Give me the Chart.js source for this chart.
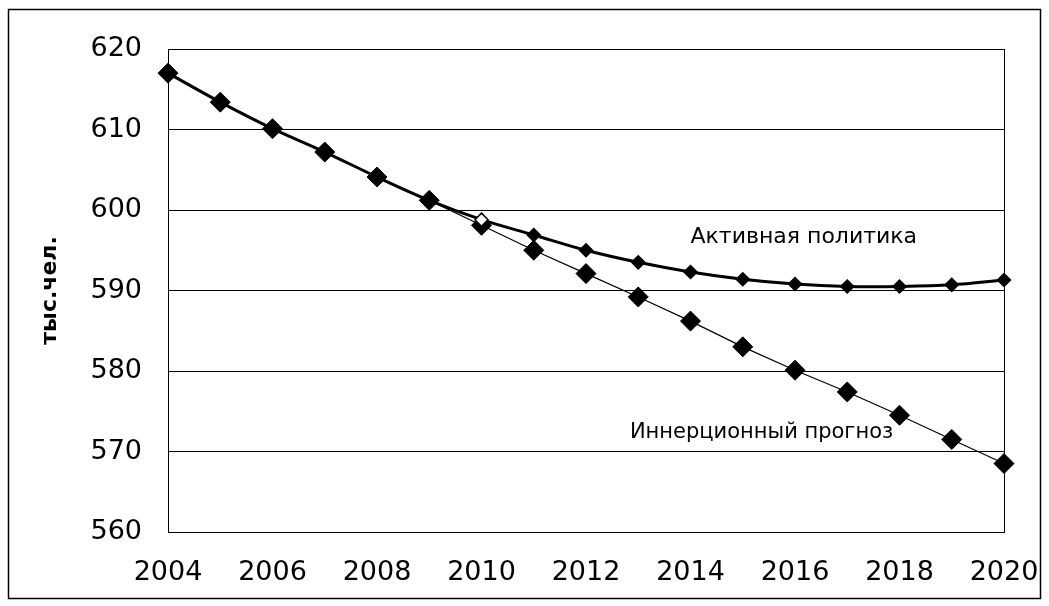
<!DOCTYPE html>
<html>
<head>
<meta charset="utf-8">
<script src="https://cdn.jsdelivr.net/npm/chart.js@4"></script>
<style>
  html, body { margin:0; padding:0; background:#fff; }
  #wrap { width:1049px; height:606px; position:relative; }
</style>
</head>
<body>
<div id="wrap"><canvas id="chart" width="1049" height="606"></canvas></div>
<script>
// years on x axis
const years = [2004,2005,2006,2007,2008,2009,2010,2011,2012,2013,2014,2015,2016,2017,2018,2019,2020];
// inertial forecast, thousand people
const inertial = [617.0,613.4,610.1,607.2,604.1,601.2,598.1,595.0,592.1,589.2,586.2,583.0,580.1,577.4,574.5,571.5,568.5];
// active policy (coincides with inertial before 2010)
const active = [617.0,613.4,610.1,607.2,604.1,601.2,598.8,596.9,595.0,593.5,592.3,591.4,590.8,590.5,590.5,590.7,591.3];
const yTicks = [560,570,580,590,600,610,620];
const xTicks = [2004,2006,2008,2010,2012,2014,2016,2018,2020];
const seriesLabels = ['Иннерционный прогноз', 'Активная политика'];
// where the two text labels sit, in data units [year, value]
const labelPos = [[2012.84, 572.3], [2014.0, 596.6]];

const FONT = '"DejaVu Sans", "Liberation Sans", Arial, sans-serif';

const frame = {
  id: 'frame',
  afterDraw(chart) {
    const { ctx, chartArea: a, scales } = chart;
    ctx.save();
    ctx.strokeStyle = '#000';
    ctx.lineWidth = 1.5;
    ctx.strokeRect(8.5, 9.5, 1032, 589);
    // series labels
    ctx.fillStyle = '#000';
    ctx.textBaseline = 'middle';
    ctx.textAlign = 'left';
    seriesLabels.forEach((t, i) => {
      ctx.font = (i === 0 ? '21px ' : '22px ') + FONT;
      ctx.fillText(t, scales.x.getPixelForValue(labelPos[i][0]), scales.y.getPixelForValue(labelPos[i][1]));
    });
    ctx.restore();
  },
  beforeDatasetsDraw(chart) {
    const { ctx, chartArea: a } = chart;
    ctx.save();
    ctx.strokeStyle = '#000';
    ctx.lineWidth = 1;
    ctx.strokeRect(a.left + 0.5, a.top + 0.5, a.right - a.left, a.bottom - a.top);
    ctx.restore();
  }
};

new Chart(document.getElementById('chart'), {
  type: 'line',
  data: {
    datasets: [
      { label: seriesLabels[1], data: years.map((y, i) => ({ x: y, y: active[i] })),
        borderColor:'#000', borderWidth:3, tension:0.35, clip:false,
        pointStyle:'rectRot', pointRadius:6.5, pointBorderWidth:1.5, pointBorderColor:'#000',
        pointBackgroundColor: years.map(y => y === 2010 ? '#fff' : '#000'), order:0 },
      { label: seriesLabels[0], data: years.map((y, i) => ({ x: y, y: inertial[i] })),
        borderColor:'#000', borderWidth:1.2, tension:0, clip:false,
        pointStyle:'rectRot', pointRadius:10, pointBorderWidth:1, pointBorderColor:'#000',
        pointBackgroundColor:'#000', order:1 }
    ]
  },
  options: {
    responsive:false, animation:false, devicePixelRatio:1,
    layout: { padding: { left:0, right:45, top:49, bottom:0 } },
    plugins: { legend:{ display:false }, tooltip:{ enabled:false } },
    scales: {
      x: {
        type:'linear', min:2004, max:2020,
        afterBuildTicks: s => { s.ticks = xTicks.map(v => ({ value:v })); },
        afterFit: s => { s.height = 74; s.paddingLeft = 0; s.paddingRight = 0; },
        grid: { display:false, drawTicks:false },
        border: { display:false },
        ticks: { color:'#000', font:{ family:FONT, size:27 }, padding:25, maxRotation:0,
          callback: v => String(v) }
      },
      y: {
        min:560, max:620,
        afterBuildTicks: s => { s.ticks = yTicks.map(v => ({ value:v })); },
        afterFit: s => { s.width = 168; s.paddingTop = 0; s.paddingBottom = 0; },
        grid: { color:'#000', lineWidth:1, drawTicks:false },
        border: { display:false },
        ticks: { color:'#000', font:{ family:FONT, size:27 }, padding:26 },
        title: { display:true, text:'тыс.чел.', color:'#000',
          font:{ family:FONT, size:22, weight:'bold' }, padding:{ top:37, bottom:0 } }
      }
    }
  },
  plugins: [frame]
});
</script>
</body>
</html>
